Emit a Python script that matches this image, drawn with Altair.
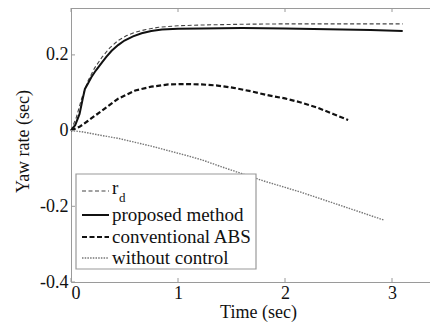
import altair as alt
import pandas as pd

# ---- data ----
t_rd = [0, 0.05, 0.1, 0.16, 0.22, 0.29, 0.36, 0.44, 0.52, 0.6, 0.7, 0.82, 1.0, 1.22, 1.6, 2.0, 2.5, 3.1]
v_rd = [0, 0.035, 0.085, 0.132, 0.165, 0.194, 0.218, 0.238, 0.251, 0.26, 0.267, 0.273, 0.277, 0.279, 0.281, 0.282, 0.282, 0.282]

t_pm = [0, 0.04, 0.08, 0.11, 0.13, 0.16, 0.19, 0.23, 0.29, 0.33, 0.38, 0.44, 0.5, 0.58, 0.66, 0.75, 0.85, 1.0, 1.22, 1.6, 2.0, 2.4, 2.8, 3.1]
v_pm = [0, 0.015, 0.044, 0.085, 0.11, 0.125, 0.141, 0.158, 0.18, 0.195, 0.211, 0.226, 0.238, 0.249, 0.257, 0.263, 0.267, 0.269, 0.27, 0.271, 0.27, 0.268, 0.266, 0.263]

t_ca = [0, 0.08, 0.16, 0.29, 0.44, 0.6, 0.75, 0.91, 1.07, 1.22, 1.37, 1.52, 1.68, 1.83, 2.0, 2.14, 2.3, 2.45, 2.59]
v_ca = [0, 0.01, 0.026, 0.053, 0.084, 0.106, 0.116, 0.122, 0.123, 0.122, 0.119, 0.113, 0.104, 0.094, 0.085, 0.075, 0.061, 0.044, 0.028]

t_wc = [0, 0.1, 0.29, 0.45, 0.6, 0.75, 0.91, 1.07, 1.22, 1.4, 1.59, 1.8, 2.0, 2.14, 2.3, 2.5, 2.7, 2.92]
v_wc = [0, -0.003, -0.013, -0.021, -0.031, -0.041, -0.053, -0.065, -0.077, -0.095, -0.113, -0.133, -0.150, -0.162, -0.177, -0.196, -0.215, -0.236]

x_ticks = [0, 1, 2, 3]
y_ticks = [-0.4, -0.2, 0, 0.2]

legend_labels = ["r", "proposed method", "conventional ABS", "without control"]

FONT = "Liberation Serif"
W, H = 359, 274
XDOM = [0, W / 107.0]
YDOM = [-0.4, -0.4 + H / 378.5]
AX = "#9a9a9a"

xs = alt.Scale(domain=XDOM, nice=False, zero=False)
ys = alt.Scale(domain=YDOM, nice=False, zero=False)

ylab = ("datum.value < 0 ? '-' + format(-datum.value, '.1f') : "
        "(datum.value == 0 ? '0' : format(datum.value, '.1f'))")
xlab = "format(datum.value, 'd')"

xaxis = alt.Axis(values=x_ticks, ticks=False, grid=False, domainColor=AX,
                 labelFont=FONT, labelFontSize=18, labelColor="#111", labelPadding=2,
                 labelExpr=xlab,
                 title="Time (sec)", titleFont=FONT, titleFontSize=18, titleFontWeight="normal",
                 titleColor="#111", titleX=187, titleY=30, titleBaseline="middle", titleAlign="center")
yaxis = alt.Axis(values=y_ticks, ticks=False, grid=False, domainColor=AX,
                 labelFont=FONT, labelFontSize=18, labelColor="#111", labelPadding=3,
                 labelExpr=ylab,
                 title="Yaw rate (sec)", titleFont=FONT, titleFontSize=18, titleFontWeight="normal",
                 titleColor="#111", titleX=-48, titleY=133, titleBaseline="middle", titleAlign="center",
                 titleAngle=270)


def series(t, v):
    return pd.DataFrame({"t": t, "v": v})


base_enc = dict(x=alt.X("t:Q", scale=xs, axis=xaxis), y=alt.Y("v:Q", scale=ys, axis=yaxis))

wc = alt.Chart(series(t_wc, v_wc)).mark_line(color="#777", strokeWidth=1.4, strokeDash=[1.5, 1.2]).encode(**base_enc)
ca = alt.Chart(series(t_ca, v_ca)).mark_line(color="#111", strokeWidth=2.2, strokeDash=[5, 2.5]).encode(**base_enc)
rd = alt.Chart(series(t_rd, v_rd)).mark_line(color="#444", strokeWidth=1.1, strokeDash=[4, 2.5]).encode(**base_enc)
pm = alt.Chart(series(t_pm, v_pm)).mark_line(color="#111", strokeWidth=2.0).encode(**base_enc)

# top frame line
top_line = alt.Chart(pd.DataFrame({"a": [0]})).mark_rule(color=AX, strokeWidth=1).encode(
    x=alt.value(0), x2=alt.value(W), y=alt.value(0.5))

# inward ticks
xt = pd.DataFrame({"t": x_ticks})
yt = pd.DataFrame({"v": y_ticks})
xtick_b = alt.Chart(xt).mark_rule(color=AX, strokeWidth=1).encode(
    x=alt.X("t:Q", scale=xs, axis=xaxis), y=alt.value(H), y2=alt.value(H - 4))
xtick_t = alt.Chart(xt).mark_rule(color=AX, strokeWidth=1).encode(
    x=alt.X("t:Q", scale=xs, axis=xaxis), y=alt.value(0), y2=alt.value(4))
ytick = alt.Chart(yt).mark_rule(color=AX, strokeWidth=1).encode(
    y=alt.Y("v:Q", scale=ys, axis=yaxis), x=alt.value(0), x2=alt.value(4))

# legend (pixel layout in view coordinates)
lx0, lx1, ly0, ly1 = 5, 185, 166, 261
box = alt.Chart(pd.DataFrame({"a": [0]})).mark_rect(fill="white", stroke=AX, strokeWidth=1.2).encode(
    x=alt.value(lx0), x2=alt.value(lx1), y=alt.value(ly0), y2=alt.value(ly1))

rows_y = [183, 207, 229, 250]
sx0, sx1 = 11, 38
styles = [
    dict(color="#444", strokeWidth=1.1, strokeDash=[4, 2.5]),
    dict(color="#111", strokeWidth=2.0),
    dict(color="#111", strokeWidth=2.2, strokeDash=[5, 2.5]),
    dict(color="#777", strokeWidth=1.4, strokeDash=[1.5, 1.2]),
]
sym_layers = []
for yy, st in zip(rows_y, styles):
    sym_layers.append(alt.Chart(pd.DataFrame({"a": [0]})).mark_rule(**st).encode(
        x=alt.value(sx0), x2=alt.value(sx1), y=alt.value(yy)))

txt_layers = []
txt_layers.append(alt.Chart(pd.DataFrame({"s": [legend_labels[0]]})).mark_text(
    font=FONT, fontSize=19, color="#111", align="left", baseline="middle").encode(
    text="s:N", x=alt.value(41), y=alt.value(rows_y[0] - 3)))
txt_layers.append(alt.Chart(pd.DataFrame({"s": ["d"]})).mark_text(
    font=FONT, fontSize=13, color="#111", align="left", baseline="middle").encode(
    text="s:N", x=alt.value(48), y=alt.value(rows_y[0] + 7)))
for yy, lab in zip(rows_y[1:], legend_labels[1:]):
    txt_layers.append(alt.Chart(pd.DataFrame({"s": [lab]})).mark_text(
        font=FONT, fontSize=19, color="#111", align="left", baseline="middle").encode(
        text="s:N", x=alt.value(41), y=alt.value(yy)))

chart = alt.layer(
    wc, ca, rd, pm, top_line, xtick_b, xtick_t, ytick, box, *sym_layers, *txt_layers
).properties(
    width=W, height=H,
    autosize=alt.AutoSizeParams(type="none"),
    padding={"left": 63, "top": 0, "right": 0, "bottom": 44},
).configure_view(strokeWidth=0).configure(background="white", font=FONT)

chart.save("out.html", embed_options={"renderer": "svg", "actions": False})
